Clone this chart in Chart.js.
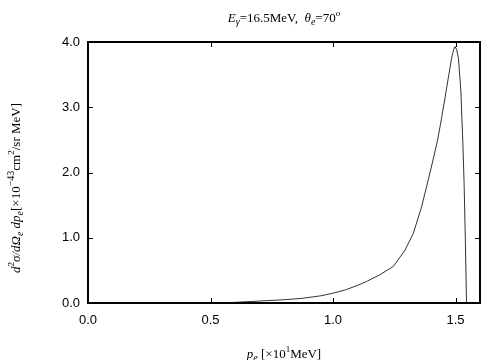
<!DOCTYPE html>
<html><head><meta charset="utf-8">
<script src="https://cdn.jsdelivr.net/npm/chart.js@4/dist/chart.umd.min.js"></script>
<style>html,body{margin:0;padding:0;background:#fff;}canvas{display:block;}</style>
</head><body>
<canvas id="c" width="504" height="360"></canvas>
<script>
// Data
const momentum = [0.54, 0.60, 0.70, 0.80, 0.87, 0.95, 1.00, 1.05, 1.10, 1.137, 1.19, 1.246, 1.294, 1.328, 1.362, 1.389, 1.41, 1.427, 1.443, 1.457, 1.472, 1.484, 1.492, 1.498, 1.505, 1.512, 1.522, 1.530, 1.535, 1.540, 1.545];
const crossSection = [0.00, 0.01, 0.03, 0.05, 0.07, 0.11, 0.15, 0.20, 0.27, 0.33, 0.43, 0.56, 0.81, 1.07, 1.48, 1.89, 2.22, 2.50, 2.83, 3.14, 3.48, 3.75, 3.88, 3.93, 3.88, 3.75, 3.25, 2.45, 1.85, 1.00, 0.00];
const xTicks = [0.0, 0.5, 1.0, 1.5];
const yTicks = [0.0, 1.0, 2.0, 3.0, 4.0];

const SERIF = '"Liberation Serif", "Times New Roman", serif';

function drawRich(ctx, segs, size, x, y, rot) {
  ctx.save();
  ctx.translate(x, y);
  if (rot) ctx.rotate(rot);
  ctx.textBaseline = 'alphabetic';
  ctx.fillStyle = '#000';
  const fontOf = s => (s.it ? 'italic ' : '') + Math.round(size * (s.sc || 1)) + 'px ' + SERIF;
  let w = 0;
  segs.forEach(s => { ctx.font = fontOf(s); w += ctx.measureText(s.t).width; });
  let cx = -w / 2;
  segs.forEach(s => {
    ctx.font = fontOf(s);
    ctx.fillText(s.t, cx, (s.dy || 0) * size);
    cx += ctx.measureText(s.t).width;
  });
  ctx.restore();
}

const decor = {
  id: 'decor',
  afterDatasetsDraw(chart) {
    const ctx = chart.ctx, a = chart.chartArea;
    const xs = chart.scales.x, ys = chart.scales.y;
    ctx.save();
    ctx.strokeStyle = '#000';
    ctx.lineWidth = 1;
    const L = 5;
    xTicks.forEach(v => {
      if (v <= 0) return;
      const px = Math.round(xs.getPixelForValue(v)) + 0.5;
      ctx.beginPath();
      ctx.moveTo(px, a.bottom); ctx.lineTo(px, a.bottom - L);
      ctx.moveTo(px, a.top); ctx.lineTo(px, a.top + L);
      ctx.stroke();
    });
    yTicks.forEach(v => {
      if (v <= 0 || v >= 4) return;
      const py = Math.round(ys.getPixelForValue(v)) + 0.5;
      ctx.beginPath();
      ctx.moveTo(a.left, py); ctx.lineTo(a.left + L, py);
      ctx.moveTo(a.right, py); ctx.lineTo(a.right - L, py);
      ctx.stroke();
    });
    ctx.lineWidth = 2;
    ctx.strokeRect(a.left, a.top, a.right - a.left, a.bottom - a.top);
    ctx.restore();

    // Title
    drawRich(ctx, [
      {t: 'E', it: true}, {t: 'γ', it: true, sc: 0.75, dy: 0.25},
      {t: '=16.5MeV,  '}, {t: 'θ', it: true}, {t: 'e', it: true, sc: 0.75, dy: 0.25},
      {t: '=70'}, {t: 'o', it: true, sc: 0.7, dy: -0.45}
    ], 13, 284, 22, 0);

    // Y axis label
    drawRich(ctx, [
      {t: 'd', it: true}, {t: '2', sc: 0.7, dy: -0.45}, {t: 'σ/dΩ', it: true},
      {t: 'e', it: true, sc: 0.75, dy: 0.25}, {t: ' dp', it: true},
      {t: 'e', it: true, sc: 0.75, dy: 0.25}, {t: '[×10'}, {t: '−43', sc: 0.75, dy: -0.45},
      {t: 'cm'}, {t: '2', sc: 0.7, dy: -0.45}, {t: '/sr MeV]'}
    ], 13, 20, 188, -Math.PI / 2);

    // X axis label
    drawRich(ctx, [
      {t: 'p', it: true}, {t: 'e', it: true, sc: 0.75, dy: 0.25}, {t: ' [×10'},
      {t: '1', sc: 0.7, dy: -0.45}, {t: 'MeV]'}
    ], 13, 284, 358, 0);
  }
};

const points = momentum.map((m, i) => ({x: m, y: crossSection[i]}));

new Chart(document.getElementById('c'), {
  type: 'line',
  data: {
    datasets: [{
      data: points,
      borderColor: '#333',
      borderWidth: 1,
      pointRadius: 0,
      tension: 0,
      fill: false
    }]
  },
  options: {
    responsive: false,
    animation: false,
    events: [],
    layout: {padding: {left: 0, right: 24, top: 42, bottom: 0}},
    plugins: {legend: {display: false}, tooltip: {enabled: false}, title: {display: false}},
    scales: {
      x: {
        type: 'linear', min: 0, max: 1.6,
        grid: {display: false, drawTicks: false},
        border: {display: false},
        afterBuildTicks: s => { s.ticks = xTicks.map(v => ({value: v})); },
        afterFit: s => { s.height = 57; },
        ticks: {
          color: '#000', padding: 10,
          font: {family: '"Liberation Sans", Arial, sans-serif', size: 13},
          callback: v => Number(v).toFixed(1)
        }
      },
      y: {
        type: 'linear', min: 0, max: 4,
        grid: {display: false, drawTicks: false},
        border: {display: false},
        afterBuildTicks: s => { s.ticks = yTicks.map(v => ({value: v})); },
        afterFit: s => { s.width = 88; },
        ticks: {
          color: '#000', padding: 8,
          font: {family: '"Liberation Sans", Arial, sans-serif', size: 13},
          callback: v => Number(v).toFixed(1)
        }
      }
    }
  },
  plugins: [decor]
});
</script>
</body></html>
